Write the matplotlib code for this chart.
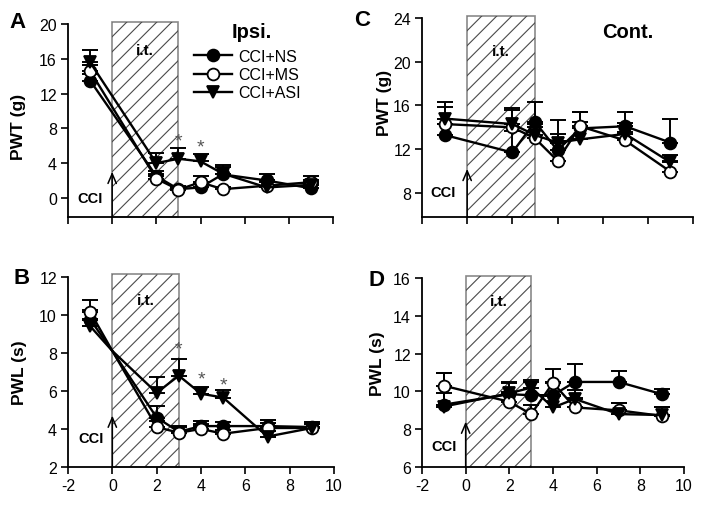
import numpy as np
import matplotlib
matplotlib.use("Agg")
import matplotlib.pyplot as plt
from matplotlib.patches import Rectangle
from matplotlib.collections import LineCollection
from matplotlib.transforms import IdentityTransform

plt.rcParams['font.family'] = ['Liberation Sans', 'DejaVu Sans']
plt.rcParams['axes.unicode_minus'] = False

labels = ["CCI+NS", "CCI+MS", "CCI+ASI"]

days = [-1, 2, 3, 4, 5, 7, 9]
days_b = [-1, 0, 2, 3, 4, 5, 7, 9]   # in B the three lines meet at day 0 (no marker)

# A: PWT (g), ipsilateral
a_ns = [13.5, 2.5, 1.0, 1.2, 2.7, 2.0, 1.1]
a_ns_err = [0.8, 0.6, 0.4, 0.5, 0.9, 0.8, 0.6]
a_ms = [14.6, 2.2, 0.95, 1.8, 1.0, 1.4, 1.8]
a_ms_err = [0.7, 0.6, 0.3, 0.7, 0.3, 0.4, 0.7]
a_asi = [15.6, 4.0, 4.5, 4.2, 2.8, 1.2, 1.5]
a_asi_err = [1.4, 1.2, 1.2, 0.9, 1.0, 0.6, 0.6]
a_stars = [(3, 6.5), (4, 5.8)]

# B: PWL (s), ipsilateral
b_ns = [9.75, 8.1, 4.6, 3.85, 4.15, 4.15, 4.15, 4.1]
b_ns_err = [0.5, 0, 0.6, 0.3, 0.25, 0.2, 0.3, 0.25]
b_ms = [10.15, 8.1, 4.1, 3.8, 4.0, 3.75, 4.05, 4.05]
b_ms_err = [0.6, 0, 0.3, 0.3, 0.25, 0.2, 0.25, 0.2]
b_asi = [9.4, 8.1, 5.9, 6.8, 5.85, 5.65, 3.6, 4.05]
b_asi_err = [0.4, 0, 0.85, 0.85, 0.35, 0.4, 0.3, 0.2]
b_stars = [(3, 8.2), (4, 6.6), (5, 6.3)]

# C: PWT (g), contralateral
c_ns = [13.3, 11.7, 14.5, 11.9, 13.9, 14.1, 12.6]
c_ns_err = [1.0, 2.0, 1.8, 1.5, 1.5, 1.3, 2.2]
c_ms = [14.3, 14.0, 13.0, 10.95, 14.1, 12.8, 9.95]
c_ms_err = [1.6, 1.6, 1.0, 1.8, 1.3, 0.8, 1.0]
c_asi = [14.8, 14.3, 13.3, 12.6, 12.9, 13.4, 10.8]
c_asi_err = [1.5, 1.5, 1.0, 2.1, 1.6, 1.0, 0.7]

# D: PWL (s), contralateral
d_ns = [9.3, 9.85, 9.8, 9.8, 10.5, 10.5, 9.85]
d_ns_err = [0.6, 0.6, 0.7, 0.7, 0.95, 0.6, 0.3]
d_ms = [10.3, 9.45, 8.8, 10.45, 9.15, 9.0, 8.7]
d_ms_err = [0.7, 0.5, 0.5, 0.75, 0.5, 0.4, 0.45]
d_asi = [9.2, 9.9, 10.2, 9.15, 9.6, 8.8, 8.75]
d_asi_err = [1.8, 0.6, 0.4, 0.6, 0.5, 0.6, 0.4]

styles = [("o", "black"), ("o", "white"), ("v", "black")]

W, H = 704, 506
fig = plt.figure(figsize=(W / 100, H / 100), dpi=100)


def px_axes(x0, x1, ytop, ybot):
    return fig.add_axes([x0 / W, 1 - ybot / H, (x1 - x0) / W, (ybot - ytop) / H])


def hatch_box(ax, x0, x1, y0, y1, step=15):
    # thin 45 degree hatch lines, spaced in pixels, clipped to the box
    box = Rectangle((x0, y0), x1 - x0, y1 - y0, fill=False, edgecolor="#8a8a8a",
                    lw=1.2, clip_on=False, zorder=1)
    ax.add_patch(box)
    (px0, py0), (px1, py1) = ax.transData.transform([(x0, y0), (x1, y1)])
    segs = []
    for k in np.arange(px0 - py1, px1 - py0 + step, step):
        segs.append([(k + py0, py0), (k + py1, py1)])
    lc = LineCollection(segs, colors="#4a4a4a", linewidths=0.8, transform=IdentityTransform(), zorder=1)
    ax.add_collection(lc, autolim=False)
    lc.set_clip_path(box)


panels = [
    dict(rect=(68, 333, 25, 218), x=days, ys=[(a_ns, a_ns_err), (a_ms, a_ms_err), (a_asi, a_asi_err)],
         ylim=(-2.2, 20), yticks=range(0, 21, 4), ylabel="PWT (g)", lab_xy=(-0.16, 0.47),
         letter="A", letter_px=(17, 23), stars=a_stars, it_y=17.0, cci=(-1.0, 0.0), tip=3.0,
         xlabels=False),
    dict(rect=(68, 334, 277.7, 468), x=days_b, ys=[(b_ns, b_ns_err), (b_ms, b_ms_err), (b_asi, b_asi_err)],
         ylim=(2, 12), yticks=range(2, 13, 2), ylabel="PWL (s)", lab_xy=(-0.155, 0.5),
         letter="B", letter_px=(22, 279), stars=b_stars, it_y=10.75, cci=(-0.95, 3.5), tip=4.7,
         xlabels=True),
    dict(rect=(422, 693, 19, 218), x=days, ys=[(c_ns, c_ns_err), (c_ms, c_ms_err), (c_asi, c_asi_err)],
         ylim=(5.8, 24), yticks=range(8, 25, 4), ylabel="PWT (g)", lab_xy=(-0.11, 0.58),
         letter="C", letter_px=(362, 21), stars=[], it_y=21.0, cci=(-1.05, 8.1), tip=10.2,
         xlabels=False),
    dict(rect=(422, 684, 279, 468), x=days, ys=[(d_ns, d_ns_err), (d_ms, d_ms_err), (d_asi, d_asi_err)],
         ylim=(6, 16), yticks=range(6, 17, 2), ylabel="PWL (s)", lab_xy=(-0.14, 0.55),
         letter="D", letter_px=(377, 280), stars=[], it_y=14.8, cci=(-1.0, 7.1), tip=8.4,
         xlabels=True),
]

axes = []
for p in panels:
    ax = px_axes(*p["rect"])
    axes.append(ax)
    x = np.array(p["x"], dtype=float)
    lines = []
    for i, ((y, err), (mk, fc)) in enumerate(zip(p["ys"], styles)):
        y = np.array(y)
        err = np.array(err)
        show = err > 0
        ax.errorbar(x[show], y[show], yerr=[np.zeros(show.sum()), err[show]], fmt="none",
                    ecolor="black", elinewidth=1.4, capsize=6, capthick=1.4, zorder=3)
        ln, = ax.plot(x, y, color="black", lw=1.7, marker=mk, mfc=fc, mec="black", mew=1.3,
                      ms=8.5 if mk == "o" else 9, markevery=list(np.where(show)[0]),
                      label=labels[i], zorder=4 + i)
        lines.append(ln)

    ylo, yhi = p["ylim"]
    ax.set_xlim(-2, 10)
    ax.set_ylim(ylo, yhi)
    ax.set_xticks(range(-2, 11, 2))
    ax.set_yticks(list(p["yticks"]))
    hatch_box(ax, 0, 3, ylo, yhi + 0.012 * (yhi - ylo))

    for s in ["top", "right"]:
        ax.spines[s].set_visible(False)
    for s in ["left", "bottom"]:
        ax.spines[s].set_linewidth(1.3)
    ax.tick_params(direction="out", length=5, width=1.2, labelsize=11.5, pad=3)
    ax.tick_params(axis="x", labelbottom=p["xlabels"])

    ax.set_ylabel(p["ylabel"], fontsize=12.5, fontweight="bold")
    ax.yaxis.set_label_coords(*p["lab_xy"])

    ax.text(1.5, p["it_y"], "i.t.", ha="center", va="center", fontsize=11, fontweight="bold", zorder=6)
    ax.text(p["cci"][0], p["cci"][1], "CCI", ha="center", va="center", fontsize=10.5, fontweight="bold")
    ax.annotate("", xy=(0, p["tip"]), xytext=(0, ylo),
                arrowprops=dict(arrowstyle="->,head_length=0.7,head_width=0.3", lw=1.1,
                                color="black", shrinkA=0, shrinkB=0))
    for sx, sy in p["stars"]:
        ax.text(sx, sy, "*", ha="center", va="center", fontsize=14, color="#555555")

    fig.text(p["letter_px"][0] / W, 1 - p["letter_px"][1] / H, p["letter"], ha="center",
             va="center", fontsize=16, fontweight="bold")

    if p["letter"] == "A":
        ax.legend(handles=lines, loc="upper left", bbox_to_anchor=(0.475, 0.87), frameon=False,
                  fontsize=11.5, handlelength=2.4, handletextpad=0.4, labelspacing=0.2,
                  borderpad=0, borderaxespad=0)

axes[0].text(6.3, 19.1, "Ipsi.", ha="center", va="center", fontsize=14.5, fontweight="bold")
axes[2].text(7.1, 22.8, "Cont.", ha="center", va="center", fontsize=14.5, fontweight="bold")

fig.savefig("out.png", dpi=100)
